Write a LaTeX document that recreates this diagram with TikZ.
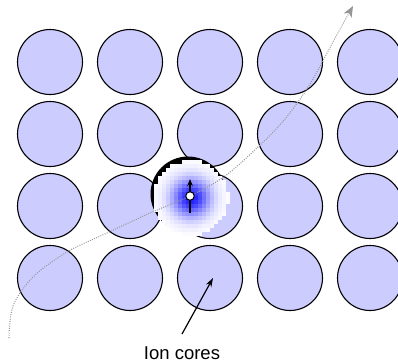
\documentclass[tikz,border=0pt]{standalone}
\usepackage{fontspec}
\setmainfont{Liberation Sans}
\usetikzlibrary{arrows.meta}
\definecolor{corefill}{RGB}{204,204,255}
\definecolor{pathgray}{RGB}{150,150,150}
\tikzset{
  ioncore/.style={circle, draw=black, line width=1.1pt, fill=corefill,
    minimum size=65pt, inner sep=0pt},
  drift/.style={pathgray, line width=1.1pt, dash pattern=on 0.9pt off 1.4pt,
    -{Stealth[length=11pt, width=9pt, inset=3pt, fill=pathgray]}},
  pointer/.style={black, line width=1.2pt, -{Stealth[length=9pt, width=6pt]}},
  spin/.style={black, line width=1.4pt, -{Stealth[length=7pt, width=5.5pt]}},
  electron/.style={circle, draw=black, line width=1pt, fill=white,
    minimum size=8.5pt, inner sep=0pt},
  caption/.style={font=\fontsize{18.5}{20}\selectfont, inner sep=0pt}
}
\begin{document}
\begin{tikzpicture}[x=1pt, y=-1pt]
\useasboundingbox (0,0) rectangle (398,362);
\clip (0,0) rectangle (398,362);

% lattice of ion cores: 4 rows, 5 columns
\foreach \r/\y in {1/62, 2/134, 3/206, 4/278} {
  \foreach \c/\x in {1/50, 2/130, 3/210, 4/290, 5/370} {
    \node[ioncore] (c\r\c) at (\x,\y) {};
  }
}

% displaced ion with the electron's charge cloud
\fill[black] (188,194) circle [radius=37.5pt];
\foreach \i in {0,...,20} {
  \foreach \j in {0,...,20} {
    \pgfmathsetmacro\cx{150+4*\i+2}
    \pgfmathsetmacro\cy{156+4*\j+2}
    \pgfmathsetmacro\dd{veclen(\cx-191,\cy-198)}
    \pgfmathtruncatemacro\inside{\dd<37.5 ? 1 : 0}
    \ifnum\inside=1
      \pgfmathtruncatemacro\pp{round(90*exp(-(\dd/19)^2))}
      \fill[blue!\pp!white] (\cx-2.1,\cy-2.1) rectangle (\cx+2.1,\cy+2.1);
    \fi
  }
}

% drifting electron trajectory
\draw[drift] plot[smooth, tension=0.55] coordinates {
  (9,338) (13,306) (33,277) (67,252) (107,233) (150,213) (190,196)
  (225,176) (258,147) (285,119) (310,84) (334,40) (353,6)};

% electron with its spin arrow
\coordinate (spinfoot) at (190,213);
\coordinate (spinhead) at (190,179);
\draw[spin] (spinfoot) -- (spinhead);
\node[electron] (e) at (190,196) {};

% caption
\node[caption] (label) at (182,353) {Ion cores};
\coordinate (labeltop) at (182,334);
\coordinate (coreaim) at (213,278);
\draw[pointer] (labeltop) -- (coreaim);
\end{tikzpicture}
\end{document}
